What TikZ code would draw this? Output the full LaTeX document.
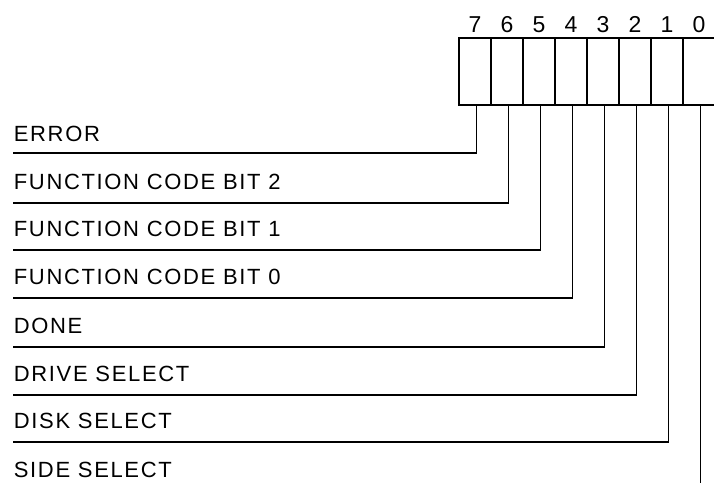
\documentclass[tikz,border=0pt]{standalone}
\usepackage{fontspec}
\setmainfont[LetterSpace=7.5]{Liberation Sans}
\usepackage{tikz}

\begin{document}
\begin{tikzpicture}[x=1pt,y=1pt,
  cell/.style={draw, line width=1.8pt, minimum width=32pt, minimum height=67pt, inner sep=0pt, outer sep=0pt},
  bitno/.style={font=\fontsize{23}{23}\selectfont, inner sep=0pt, anchor=base},
  lbl/.style={font=\fontsize{22}{22}\selectfont, inner sep=0pt, anchor=base west},
  every path/.style={line width=1.8pt}]

  \useasboundingbox (0,0) rectangle (714,485);

  % Register cells, bit 7 on the left
  \node[cell] (c7) at (475,413.5) {};
  \node[cell] (c6) at (507,413.5) {};
  \node[cell] (c5) at (539,413.5) {};
  \node[cell] (c4) at (571,413.5) {};
  \node[cell] (c3) at (603,413.5) {};
  \node[cell] (c2) at (635,413.5) {};
  \node[cell] (c1) at (667,413.5) {};
  \node[cell] (c0) at (699,413.5) {};

  % Bit numbers
  \node[bitno] (n7) at (475,452) {7};
  \node[bitno] (n6) at (507,452) {6};
  \node[bitno] (n5) at (539,452) {5};
  \node[bitno] (n4) at (571,452) {4};
  \node[bitno] (n3) at (603,452) {3};
  \node[bitno] (n2) at (635,452) {2};
  \node[bitno] (n1) at (667,452) {1};
  \node[bitno] (n0) at (699,452) {0};

  % Bit names
  \node[lbl] (l7) at (13,343) {ERROR};
  \node[lbl] (l6) at (13,295) {FUNCTION CODE BIT 2};
  \node[lbl] (l5) at (13,248) {FUNCTION CODE BIT 1};
  \node[lbl] (l4) at (13,201) {FUNCTION CODE BIT 0};
  \node[lbl] (l3) at (13,152) {DONE};
  \node[lbl] (l2) at (13,104) {DRIVE SELECT};
  \node[lbl] (l1) at (13,57) {DISK SELECT};
  \node[lbl] (l0) at (13,8) {SIDE SELECT};

  % Left ends of the rules
  \coordinate (e7) at (13,332);
  \coordinate (e6) at (13,282);
  \coordinate (e5) at (13,235);
  \coordinate (e4) at (13,187);
  \coordinate (e3) at (13,138);
  \coordinate (e2) at (13,90);
  \coordinate (e1) at (13,43);
  \coordinate (e0) at (700.5,2);

  % Connecting lines
  \draw ([xshift=1.5pt]c7.south) |- (e7);
  \draw ([xshift=1.5pt]c6.south) |- (e6);
  \draw ([xshift=1.5pt]c5.south) |- (e5);
  \draw ([xshift=1.5pt]c4.south) |- (e4);
  \draw ([xshift=1.5pt]c3.south) |- (e3);
  \draw ([xshift=1.5pt]c2.south) |- (e2);
  \draw ([xshift=1.5pt]c1.south) |- (e1);
  \draw ([xshift=1.5pt]c0.south) -- (e0);

\end{tikzpicture}
\end{document}
